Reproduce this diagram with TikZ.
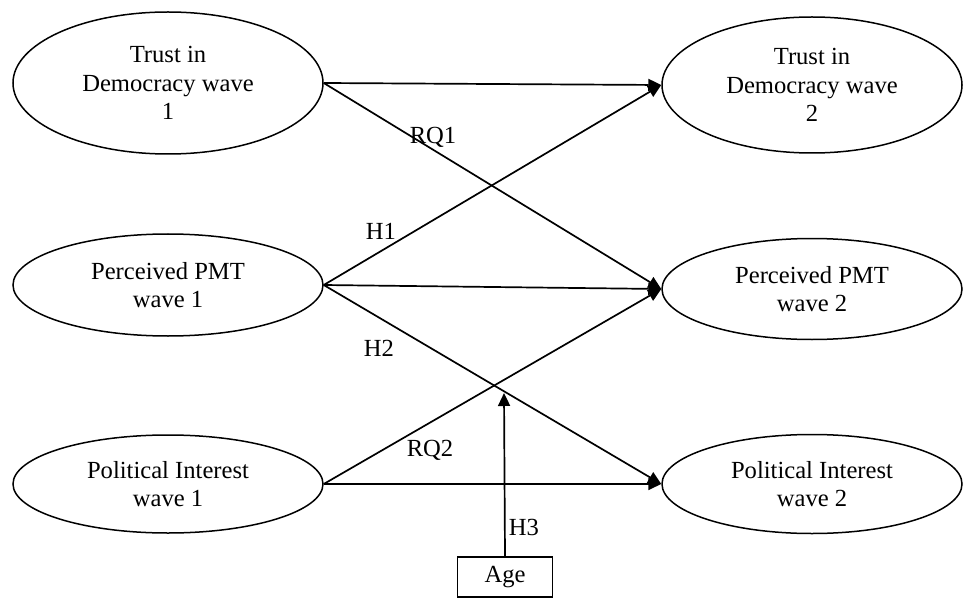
\documentclass[tikz,border=0pt]{standalone}
\usepackage{fontspec}
\setmainfont{Liberation Serif}
\usetikzlibrary{shapes.geometric,arrows.meta}
\begin{document}
\begin{tikzpicture}[x=1pt,y=1pt,
  every node/.style={font=\fontsize{24.6}{28.5}\selectfont},
  var/.style={draw,ellipse,line width=1.5pt,inner sep=0pt,align=center},
  agebox/.style={draw,rectangle,line width=1.5pt,inner sep=0pt,minimum width=95pt,minimum height=40pt},
  path/.style={line width=1.7pt,-{Triangle[length=13pt,width=12pt]}},
  lbl/.style={inner sep=0pt}]
\useasboundingbox (0,0) rectangle (963,598);
\node[var,minimum width=310pt,minimum height=142pt] (td1) at (168,515) {Trust in\\Democracy wave\\1};
\node[var,minimum width=300pt,minimum height=136pt] (td2) at (812,513) {Trust in\\Democracy wave\\2};
\node[var,minimum width=310pt,minimum height=102pt] (pmt1) at (168,313) {Perceived PMT\\wave 1};
\node[var,minimum width=300pt,minimum height=101pt] (pmt2) at (812,309) {Perceived PMT\\wave 2};
\node[var,minimum width=310pt,minimum height=98pt] (pi1) at (168,114) {Political Interest\\wave 1};
\node[var,minimum width=300pt,minimum height=99pt] (pi2) at (812,114) {Political Interest\\wave 2};
\node[agebox] (age) at (505,21) {Age};
\coordinate (mod) at (504,205);
\draw[path] (td1.east) -- (td2.west);
\draw[path] (td1.east) -- (pmt2.west);
\draw[path] (pmt1.east) -- (td2.west);
\draw[path] (pmt1.east) -- (pmt2.west);
\draw[path] (pmt1.east) -- (pi2.west);
\draw[path] (pi1.east) -- (pmt2.west);
\draw[path] (pi1.east) -- (pi2.west);
\draw[path] (age.north) -- (mod);
\node[lbl] (rq1) at (433,461) {RQ1};
\node[lbl] (h1) at (381,367) {H1};
\node[lbl] (h2) at (379,250) {H2};
\node[lbl] (rq2) at (430,148) {RQ2};
\node[lbl] (h3) at (524,71) {H3};
\end{tikzpicture}
\end{document}
